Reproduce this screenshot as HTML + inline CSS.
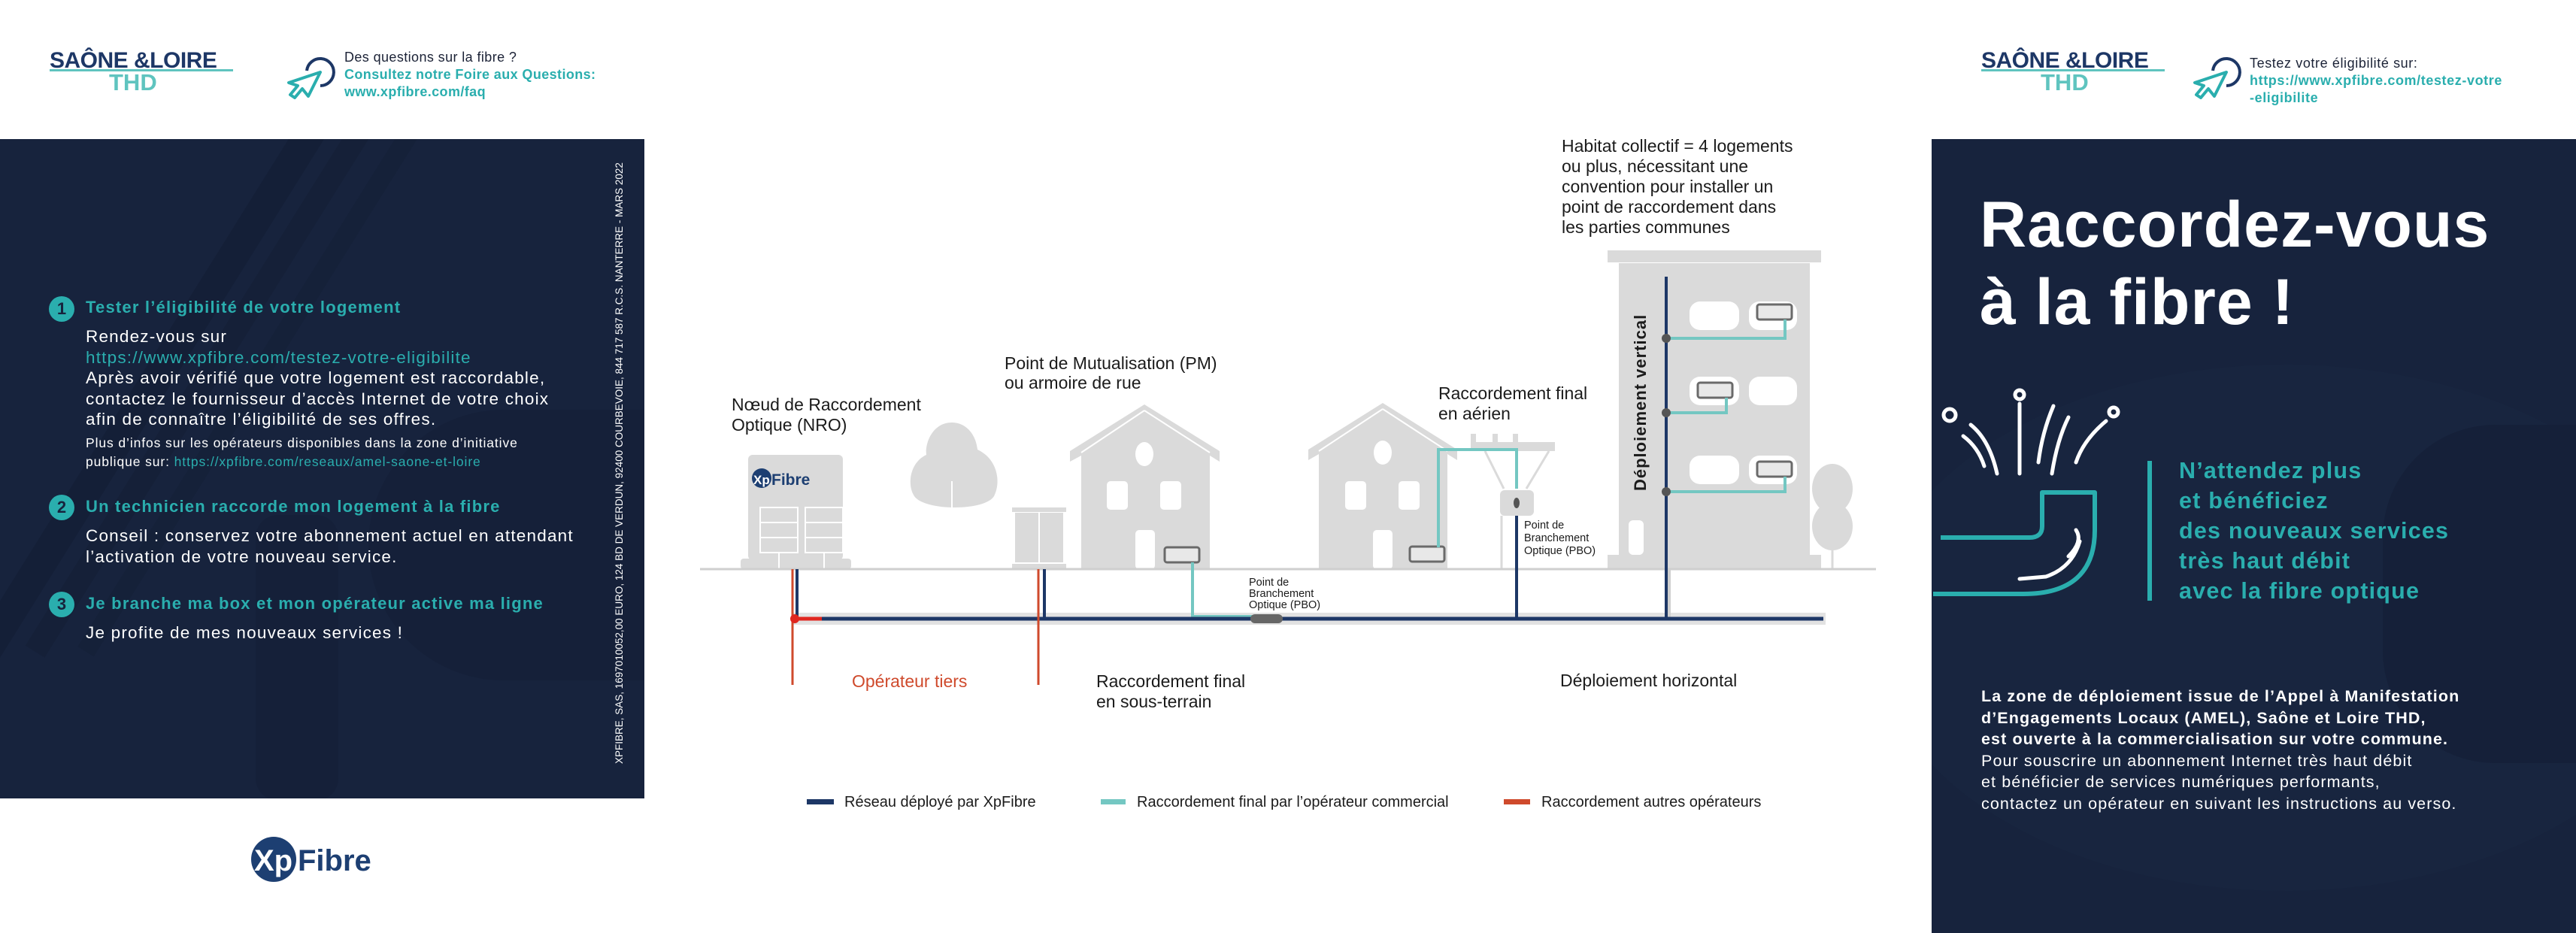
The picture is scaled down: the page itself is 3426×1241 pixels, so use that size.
<!DOCTYPE html>
<html><head><meta charset="utf-8"><style>
*{margin:0;padding:0;box-sizing:border-box}
body{width:3426px;height:1241px;background:#fff;position:relative;overflow:hidden;font-family:"Liberation Sans",sans-serif}
.a{position:absolute;white-space:nowrap}
.panel{position:absolute;background:#17233d;overflow:hidden}
.teal{color:#2aaeae}
.logo1{font-weight:bold;color:#1d3766;font-size:30px;letter-spacing:-0.5px}
.logo2{font-weight:bold;color:#5fc4bf;font-size:31px}
</style></head><body>

<!-- left panel -->
<div class="panel" style="left:0;top:185px;width:857px;height:877px">
 <div style="position:absolute;left:200px;top:-150px;width:40px;height:900px;background:#121b30;transform:rotate(32deg);opacity:.45"></div>
 <div style="position:absolute;left:270px;top:-150px;width:30px;height:900px;background:#131d33;transform:rotate(32deg);opacity:.45"></div>
 <div style="position:absolute;left:340px;top:-150px;width:25px;height:900px;background:#141e35;transform:rotate(32deg);opacity:.45"></div>
 <div style="position:absolute;left:340px;top:500px;width:110px;height:380px;background:#152039;border-radius:30px"></div>
 <div style="position:absolute;left:490px;top:360px;width:420px;height:360px;background:#152039;border-radius:180px 0 0 180px"></div>
</div>
<!-- right panel -->
<div class="panel" style="left:2569px;top:185px;width:857px;height:1056px">
 <div style="position:absolute;left:-80px;top:300px;width:1100px;height:700px;border-radius:50%;background:#18253f"></div>
 <div style="position:absolute;left:600px;top:380px;width:300px;height:450px;background:#152039;border-radius:150px 0 0 150px"></div>
</div>

<!-- header left -->
<div class="a logo1" style="left:66px;top:64px">SAÔNE &amp;LOIRE</div>
<div style="position:absolute;left:66px;top:92px;width:244px;height:3px;background:#5fc4bf"></div>
<div class="a logo2" style="left:145px;top:92px">THD</div>
<svg class="a" style="left:378px;top:72px" width="68" height="60" viewBox="0 0 68 60"><path d="M30 22 A18 18 0 1 1 48 42" fill="none" stroke="#1d3766" stroke-width="4"/><path d="M48 24 L6 38 L18 42 L8 54 L14 58 L24 46 L32 56 Z" fill="none" stroke="#2aaeae" stroke-width="4" stroke-linejoin="round"/></svg>
<div class="a" style="left:458px;top:65px;font-size:18px;line-height:23px;color:#1b2236;letter-spacing:.4px">Des questions sur la fibre ?<br><b class="teal">Consultez notre Foire aux Questions:</b><br><b class="teal">www.xpfibre.com/faq</b></div>

<!-- header right -->
<div class="a logo1" style="left:2635px;top:64px">SAÔNE &amp;LOIRE</div>
<div style="position:absolute;left:2635px;top:92px;width:244px;height:3px;background:#5fc4bf"></div>
<div class="a logo2" style="left:2714px;top:92px">THD</div>
<svg class="a" style="left:2913px;top:72px" width="68" height="60" viewBox="0 0 68 60"><path d="M30 22 A18 18 0 1 1 48 42" fill="none" stroke="#1d3766" stroke-width="4"/><path d="M48 24 L6 38 L18 42 L8 54 L14 58 L24 46 L32 56 Z" fill="none" stroke="#2aaeae" stroke-width="4" stroke-linejoin="round"/></svg>
<div class="a" style="left:2992px;top:73px;font-size:18px;line-height:23px;color:#1b2236;letter-spacing:.6px">Testez votre éligibilité sur:<br><b class="teal">https://www.xpfibre.com/testez-votre</b><br><b class="teal">-eligibilite</b></div>

<!-- left steps -->
<div class="a" style="left:65px;top:394px;width:34px;height:34px;border-radius:50%;background:#2aaeae;color:#17233d;font-weight:bold;font-size:22px;text-align:center;line-height:34px">1</div>
<div class="a teal" style="left:114px;top:396px;font-size:22px;font-weight:bold;letter-spacing:1.2px">Tester l’éligibilité de votre logement</div>
<div class="a" style="left:114px;top:434px;font-size:22.5px;line-height:27.5px;color:#fff;letter-spacing:1.2px">Rendez-vous sur<br><span class="teal">https://www.xpfibre.com/testez-votre-eligibilite</span><br>Après avoir vérifié que votre logement est raccordable,<br>contactez le fournisseur d’accès Internet de votre choix<br>afin de connaître l’éligibilité de ses offres.</div>
<div class="a" style="left:114px;top:577px;font-size:17.5px;line-height:25px;color:#fff;letter-spacing:.9px">Plus d’infos sur les opérateurs disponibles dans la zone d’initiative<br>publique sur: <span class="teal">https://xpfibre.com/reseaux/amel-saone-et-loire</span></div>

<div class="a" style="left:65px;top:658px;width:34px;height:34px;border-radius:50%;background:#2aaeae;color:#17233d;font-weight:bold;font-size:22px;text-align:center;line-height:34px">2</div>
<div class="a teal" style="left:114px;top:661px;font-size:22px;font-weight:bold;letter-spacing:1.2px">Un technicien raccorde mon logement à la fibre</div>
<div class="a" style="left:114px;top:699px;font-size:22.5px;line-height:27.5px;color:#fff;letter-spacing:1.2px">Conseil : conservez votre abonnement actuel en attendant<br>l’activation de votre nouveau service.</div>

<div class="a" style="left:65px;top:787px;width:34px;height:34px;border-radius:50%;background:#2aaeae;color:#17233d;font-weight:bold;font-size:22px;text-align:center;line-height:34px">3</div>
<div class="a teal" style="left:114px;top:790px;font-size:22px;font-weight:bold;letter-spacing:1.2px">Je branche ma box et mon opérateur active ma ligne</div>
<div class="a" style="left:114px;top:829px;font-size:22.5px;color:#fff;letter-spacing:1.2px">Je profite de mes nouveaux services !</div>

<div class="a" style="left:816px;top:1016px;transform:rotate(-90deg);transform-origin:0 0;font-size:13.5px;color:#fff;font-family:'Liberation Sans Narrow','Liberation Sans',sans-serif">XPFIBRE, SAS, 1697010052,00 EURO, 124 BD DE VERDUN, 92400 COURBEVOIE, 844 717 587 R.C.S. NANTERRE - MARS 2022</div>

<!-- bottom xpfibre logo -->
<svg class="a" style="left:330px;top:1108px" width="200" height="70" viewBox="0 0 200 70"><circle cx="34" cy="35" r="30" fill="#1d3f72"/><text x="8" y="50" font-family="Liberation Sans" font-weight="bold" font-size="40" fill="#fff">Xp</text><text x="66" y="50" font-family="Liberation Sans" font-weight="bold" font-size="40" fill="#1d3f72">Fibre</text></svg>

<!-- right panel content -->
<div class="a" style="left:2633px;top:248px;font-size:86px;line-height:103px;font-weight:bold;color:#fff;letter-spacing:1px">Raccordez-vous<br>à la fibre !</div>
<svg class="a" style="left:2571px;top:515px" width="270" height="285" viewBox="0 0 270 285">
 <g fill="none" stroke="#fff" stroke-width="5" stroke-linecap="round">
  <circle cx="115" cy="10" r="6"/><circle cx="22" cy="37" r="8"/><circle cx="240" cy="33" r="6"/>
  <path d="M115 22 L115 115"/><path d="M50 50 Q75 70 85 115"/><path d="M40 65 Q60 80 68 105"/>
  <path d="M160 25 Q145 60 140 100"/><path d="M180 40 Q165 70 158 115"/><path d="M230 45 Q200 70 190 100"/>
  <path d="M180 225 Q200 205 190 190" /><path d="M115 255 L150 252 Q185 240 195 205"/>
 </g>
 <path d="M10 200 L128 200 Q145 200 145 185 L145 140 L215 140 L215 190 Q215 275 120 275 L0 275" fill="none" stroke="#2aaeae" stroke-width="6" stroke-linejoin="round"/>
</svg>
<div class="a" style="left:2856px;top:613px;width:6px;height:186px;background:#2aaeae"></div>
<div class="a teal" style="left:2898px;top:606px;font-size:30.5px;line-height:40px;font-weight:bold;letter-spacing:1.2px">N’attendez plus<br>et bénéficiez<br>des nouveaux services<br>très haut débit<br>avec la fibre optique</div>
<div class="a" style="left:2635px;top:912px;font-size:21.5px;line-height:28.5px;color:#fff;letter-spacing:1.1px"><b>La zone de déploiement issue de l’Appel à Manifestation<br>d’Engagements Locaux (AMEL), Saône et Loire THD,<br>est ouverte à la commercialisation sur votre commune.</b><br>Pour souscrire un abonnement Internet très haut débit<br>et bénéficier de services numériques performants,<br>contactez un opérateur en suivant les instructions au verso.</div>

<!-- diagram -->
<svg class="a" style="left:0;top:0" width="3426" height="1241" viewBox="0 0 3426 1241" font-family="'Liberation Sans Narrow','Liberation Sans',sans-serif">
 <g fill="#dadada">
  <rect x="995" y="605" width="126" height="140" rx="6"/>
  <rect x="985" y="743" width="147" height="14" rx="4"/>
  <path d="M1266 562 C1240 562 1230 590 1232 605 C1210 615 1206 645 1216 660 C1230 680 1310 680 1322 660 C1332 640 1326 610 1300 598 C1298 578 1285 562 1266 562Z"/>
  <rect x="1346" y="675" width="72" height="6"/>
  <rect x="1350" y="682" width="64" height="66"/>
  <rect x="1346" y="750" width="72" height="6"/>
  <path d="M1522 538 L1622 600 L1622 614 L1609 606 L1609 757 L1438 757 L1438 606 L1423 614 L1423 600 Z"/>
  <path d="M1839 536 L1938 598 L1938 612 L1925 604 L1925 757 L1754 757 L1754 604 L1740 612 L1740 598 Z"/>
  <rect x="2138" y="333" width="284" height="16"/>
  <rect x="2153" y="350" width="254" height="388"/>
  <rect x="2138" y="738" width="284" height="18"/>
  <ellipse cx="2437" cy="650" rx="27" ry="33"/>
  <ellipse cx="2437" cy="700" rx="27" ry="32"/>
  <rect x="1956" y="588" width="112" height="12"/>
  <rect x="1995" y="652" width="45" height="34" rx="6"/>
 </g>
 <g fill="none" stroke="#fff" stroke-width="2">
  <rect x="1011" y="675" width="50" height="60"/><rect x="1071" y="675" width="50" height="60"/>
  <line x1="1011" y1="695" x2="1061" y2="695"/><line x1="1011" y1="715" x2="1061" y2="715"/>
  <line x1="1071" y1="695" x2="1121" y2="695"/><line x1="1071" y1="715" x2="1121" y2="715"/>
  <line x1="1036" y1="735" x2="1036" y2="757"/><line x1="1096" y1="735" x2="1096" y2="757"/>
  <line x1="1382" y1="682" x2="1382" y2="748"/>
  <line x1="1266" y1="640" x2="1266" y2="757"/>
  <path d="M1522 546 L1609 602 M1522 546 L1438 602 M1839 544 L1925 600 M1839 544 L1754 600"/>
 </g>
 <g fill="#dadada" stroke="none"><rect x="1956" y="577" width="7" height="12"/><rect x="1985" y="577" width="7" height="12"/><rect x="2012" y="577" width="7" height="12"/></g>
 <path d="M1975 600 L2000 650 M2060 600 L2030 650" stroke="#dadada" stroke-width="3"/>
 <line x1="1997" y1="686" x2="1997" y2="757" stroke="#dadada" stroke-width="3"/>
 <line x1="2437" y1="700" x2="2437" y2="757" stroke="#dadada" stroke-width="3"/>
 <ellipse cx="2017" cy="669" rx="4" ry="7" fill="#555"/>
 <g fill="#fff">
  <ellipse cx="1522" cy="604" rx="12" ry="16"/><rect x="1472" y="640" width="28" height="38" rx="5"/><rect x="1543" y="640" width="28" height="38" rx="5"/><rect x="1510" y="705" width="26" height="52" rx="5"/>
  <ellipse cx="1839" cy="602" rx="12" ry="16"/><rect x="1789" y="640" width="28" height="38" rx="5"/><rect x="1860" y="640" width="28" height="38" rx="5"/><rect x="1826" y="705" width="26" height="52" rx="5"/>
  <rect x="2247" y="401" width="66" height="38" rx="14"/><rect x="2326" y="401" width="64" height="38" rx="14"/>
  <rect x="2247" y="501" width="66" height="38" rx="14"/><rect x="2326" y="501" width="64" height="38" rx="14"/>
  <rect x="2247" y="606" width="66" height="38" rx="14"/><rect x="2326" y="606" width="64" height="38" rx="14"/>
  <rect x="2166" y="692" width="20" height="46" rx="6"/>
 </g>
 <circle cx="1013" cy="636" r="13" fill="#1d3f72"/>
 <text x="1002" y="644" font-family="Liberation Sans" font-weight="bold" font-size="17" fill="#fff">Xp</text>
 <text x="1026" y="645" font-family="Liberation Sans" font-weight="bold" font-size="21" fill="#1d3f72">Fibre</text>
 <g fill="#e8e8e8" stroke="#6a6a6a" stroke-width="3">
  <rect x="1549" y="728" width="46" height="20" rx="3"/><rect x="1875" y="727" width="46" height="20" rx="3"/>
  <rect x="2337" y="405" width="46" height="20" rx="3"/><rect x="2258" y="509" width="46" height="20" rx="3"/><rect x="2337" y="614" width="46" height="20" rx="3"/>
 </g>
 <line x1="931" y1="757" x2="2495" y2="757" stroke="#cfcfcf" stroke-width="3"/>
 <rect x="1053" y="815" width="1375" height="16" fill="#e2e2e2"/>
 <line x1="2218" y1="757" x2="2218" y2="823" stroke="#cfcfcf" stroke-width="8"/>
 <g fill="none" stroke="#74c7c2" stroke-width="4">
  <path d="M1586 748 L1586 820 L1668 820"/>
  <path d="M1913 728 L1913 598 L2017 598 L2017 650"/>
  <path d="M2216 450 L2374 450 L2374 425"/>
  <path d="M2216 549 L2296 549 L2296 529"/>
  <path d="M2216 654 L2374 654 L2374 634"/>
 </g>
 <g stroke="#1d3766" stroke-width="4" fill="none">
  <line x1="1058" y1="823" x2="2425" y2="823" stroke-width="5"/>
  <line x1="1060" y1="757" x2="1060" y2="823"/>
  <line x1="1389" y1="757" x2="1389" y2="823"/>
  <line x1="2017" y1="686" x2="2017" y2="823"/>
  <line x1="2216" y1="368" x2="2216" y2="823"/>
 </g>
 <g fill="#555"><circle cx="2216" cy="450" r="6"/><circle cx="2216" cy="549" r="6"/><circle cx="2216" cy="654" r="6"/></g>
 <rect x="1663" y="817" width="43" height="12" rx="6" fill="#666"/>
 <g stroke="#cf4a2c" stroke-width="3" fill="none">
  <line x1="1054" y1="757" x2="1054" y2="911"/><line x1="1381" y1="757" x2="1381" y2="911"/>
  <line x1="1054" y1="823" x2="1093" y2="823" stroke-width="5" stroke="#e0261f"/>
 </g>
 <circle cx="1057" cy="823" r="6" fill="#e0261f"/>
 <g font-size="23" fill="#1b1b1b">
  <text x="973" y="546">Nœud de Raccordement</text><text x="973" y="573">Optique (NRO)</text>
  <text x="1336" y="491">Point de Mutualisation (PM)</text><text x="1336" y="517">ou armoire de rue</text>
  <text x="1913" y="531">Raccordement final</text><text x="1913" y="558">en aérien</text>
  <text x="2077" y="202">Habitat collectif = 4 logements</text><text x="2077" y="229">ou plus, nécessitant une</text><text x="2077" y="256">convention pour installer un</text><text x="2077" y="283">point de raccordement dans</text><text x="2077" y="310">les parties communes</text>
  <text x="1458" y="914">Raccordement final</text><text x="1458" y="941">en sous-terrain</text>
  <text x="2075" y="913">Déploiement horizontal</text>
  <text x="1133" y="914" fill="#cf4a2c">Opérateur tiers</text>
 </g>
 <g font-size="14.5" fill="#1b1b1b">
  <text x="2027" y="703">Point de</text><text x="2027" y="720">Branchement</text><text x="2027" y="737">Optique (PBO)</text>
  <text x="1661" y="779">Point de</text><text x="1661" y="794">Branchement</text><text x="1661" y="809">Optique (PBO)</text>
 </g>
 <text transform="translate(2189,653) rotate(-90)" font-family="Liberation Sans" font-weight="bold" font-size="22" fill="#1b1b1b" letter-spacing="1">Déploiement vertical</text>
 <rect x="1073" y="1063" width="36" height="7" fill="#1d3766"/>
 <rect x="1464" y="1063" width="33" height="7" fill="#74c7c2"/>
 <rect x="2000" y="1063" width="35" height="7" fill="#cf4a2c"/>
 <g font-size="20" fill="#1b1b1b">
  <text x="1123" y="1073">Réseau déployé par XpFibre</text>
  <text x="1512" y="1073">Raccordement final par l’opérateur commercial</text>
  <text x="2050" y="1073">Raccordement autres opérateurs</text>
 </g>
</svg>
</body></html>
